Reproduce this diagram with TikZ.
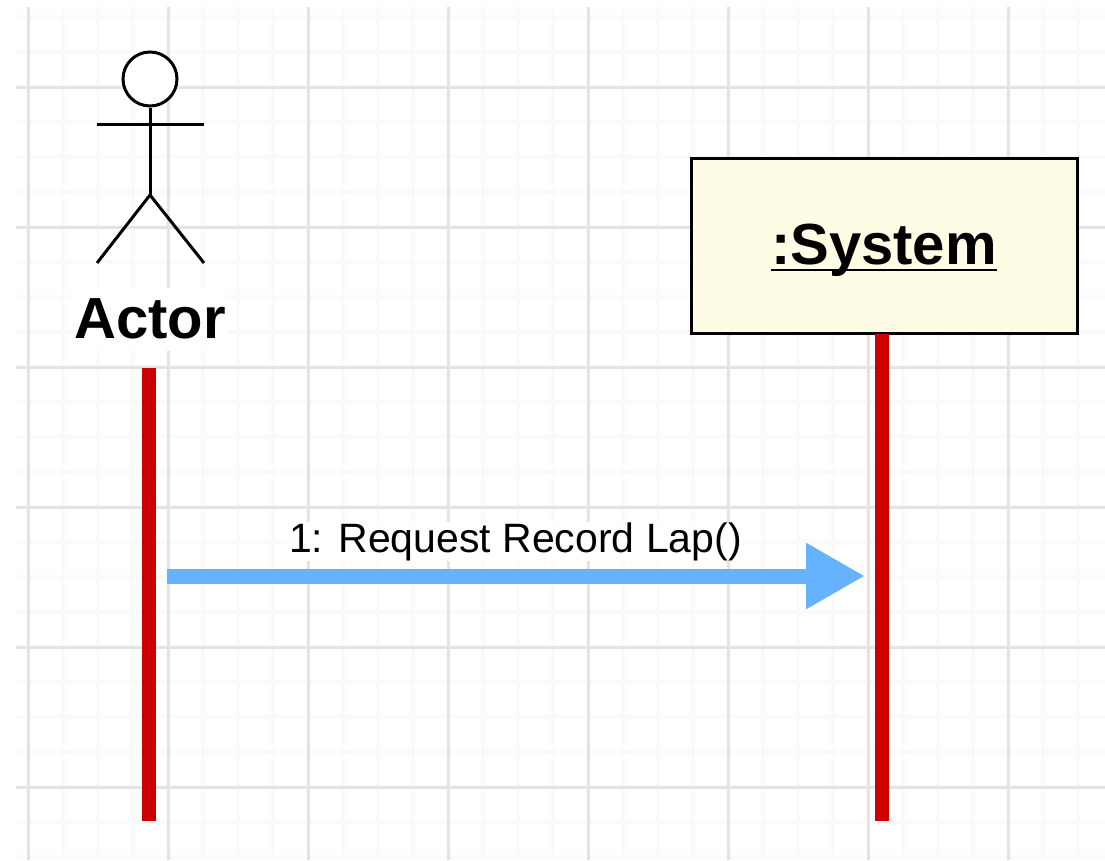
\documentclass[tikz,border=0pt]{standalone}
\usepackage{fontspec}
\setmainfont{Liberation Sans}
\usetikzlibrary{arrows.meta,positioning}
\definecolor{lifered}{HTML}{CC0000}
\definecolor{msgblue}{HTML}{66B2FF}
\definecolor{boxfill}{HTML}{FFFCE6}
\definecolor{majorgray}{HTML}{E4E4E4}
\definecolor{minorgray}{HTML}{FAFAFA}

\tikzset{
  minorline/.style={minorgray, line width=4pt},
  majorline/.style={majorgray, line width=3pt},
  lifeline/.style={lifered, line width=14pt},
  stickman/.style={black, line width=3pt},
  objectbox/.style={draw, fill=boxfill, line width=3pt, minimum width=386pt, minimum height=175pt, inner sep=0pt},
  message/.style={msgblue, line width=15pt, -{Triangle[length=59pt,width=62pt]}},
  msglabel/.style={fill=white, text=black, inner sep=0pt, font=\fontsize{41}{44}\selectfont}
}

\begin{document}
\begin{tikzpicture}[x=1pt, y=-1pt]
  \useasboundingbox (0,0) rectangle (1105,860);
  % Grid
  \foreach \x in {28,63,...,1078} \draw[minorline] (\x,7) -- (\x,860);
  \foreach \y in {17,52,...,857} \draw[minorline] (16,\y) -- (1105,\y);
  \foreach \x in {28,168,...,1008} \draw[majorline] (\x,7) -- (\x,860);
  \foreach \y in {87,227,...,787} \draw[majorline] (16,\y) -- (1105,\y);

  % Define nodes
  \node[objectbox] (system) at (884,245.5) {};
  \node[font=\fontsize{58}{60}\selectfont\bfseries, inner sep=0pt, anchor=base] (systemlabel) at (884,264) {:System};
  \node[circle, stickman, draw, fill=white, minimum size=54pt, inner sep=0pt] (actorhead) at (150,79) {};
  \node[font=\fontsize{58}{60}\selectfont\bfseries, fill=white, inner xsep=1pt, inner ysep=0pt,
        text height=50pt, text depth=13pt, anchor=base] (actor) at (150,338) {Actor};
  \coordinate (actorhip) at (150,195);
  \coordinate (actorlife) at (149,368);
  \coordinate (actorend) at (149,821);
  \coordinate (systemtop) at (882,334);
  \coordinate (systemend) at (882,821);
  \coordinate (msgfrom) at (149,576);
  \coordinate (msgto) at (882,576);

  % Underline of the object name
  \draw[line width=2.5pt] ([yshift=-6pt]systemlabel.base west) -- ([yshift=-6pt]systemlabel.base east);

  % Actor figure
  \draw[stickman] (actorhead.south) -- (actorhip);
  \draw[stickman] (97,124) -- (204,124);
  \draw[stickman] (97,263) -- (actorhip) -- (204,263);

  % Lifelines
  \draw[lifeline] (actorlife) -- (actorend);
  \draw[lifeline] (systemtop) -- (systemend);

  % Message
  \draw[message, shorten <=18pt, shorten >=17pt] (msgfrom) -- node[msglabel, above=8pt] (msg1) {1: Request Record Lap()} (msgto);
\end{tikzpicture}
\end{document}
